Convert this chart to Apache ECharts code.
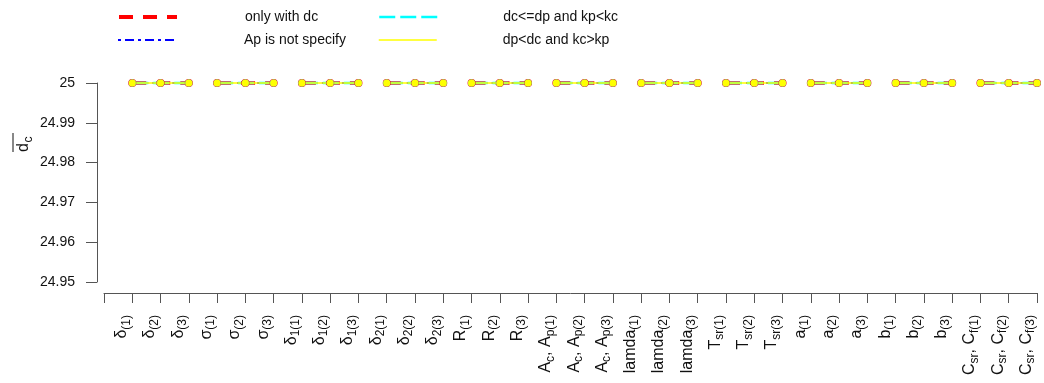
<!DOCTYPE html>
<html>
<head>
<meta charset="utf-8">
<script src="https://cdn.jsdelivr.net/npm/echarts@6/dist/echarts.min.js"></script>
<style>
html,body{margin:0;padding:0;background:#fff;}
#chart{width:1044px;height:383px;}
</style>
</head>
<body>
<div id="chart"></div>
<script>
// ---- data ----
const xLabels = ['δ_{(1)}','δ_{(2)}','δ_{(3)}','σ_{(1)}','σ_{(2)}','σ_{(3)}',
  'δ_{1(1)}','δ_{1(2)}','δ_{1(3)}','δ_{2(1)}','δ_{2(2)}','δ_{2(3)}',
  'R_{(1)}','R_{(2)}','R_{(3)}','A_{c}, A_{p(1)}','A_{c}, A_{p(2)}','A_{c}, A_{p(3)}',
  'lamda_{(1)}','lamda_{(2)}','lamda_{(3)}','T_{sr(1)}','T_{sr(2)}','T_{sr(3)}',
  'a_{(1)}','a_{(2)}','a_{(3)}','b_{(1)}','b_{(2)}','b_{(3)}',
  'C_{sr}, C_{f(1)}','C_{sr}, C_{f(2)}','C_{sr}, C_{f(3)}'];
const seriesNames = ['only with dc','Ap is not specify','dc<=dp and kp<kc','dp<dc and kc>kp'];
const onlyWithDc   = [25,25,25,25,25,25,25,25,25,25,25,25,25,25,25,25,25,25,25,25,25,25,25,25,25,25,25,25,25,25,25,25,25];
const apNotSpecify = [25,25,25,25,25,25,25,25,25,25,25,25,25,25,25,25,25,25,25,25,25,25,25,25,25,25,25,25,25,25,25,25,25];
const dcLeDp       = [25,25,25,25,25,25,25,25,25,25,25,25,25,25,25,25,25,25,25,25,25,25,25,25,25,25,25,25,25,25,25,25,25];
const dpLtDc       = [25,25,25,25,25,25,25,25,25,25,25,25,25,25,25,25,25,25,25,25,25,25,25,25,25,25,25,25,25,25,25,25,25];
const yTicks = [24.95, 24.96, 24.97, 24.98, 24.99, 25];
const groupSize = 3;

// ---- styles ----
const FONT = 'Liberation Sans, Arial, sans-serif';
const styles = [
  {color:'#ff0000', width:3.5, legendWidth:4, type:[14,10], size:8},
  {color:'#0000ff', width:2, legendWidth:2, type:[3,4,9,4], size:6},
  {color:'#00ffff', width:2.5, legendWidth:2.5, type:[16,5], size:7},
  {color:'#ffff00', width:1.5, legendWidth:1.5, type:'solid', size:7}
];
const values = [onlyWithDc, apNotSpecify, dcLeDp, dpLtDc];

function toRich(lbl){
  let out = '';
  const re = /_\{([^}]*)\}/g;
  let last = 0, m;
  while ((m = re.exec(lbl)) !== null) {
    if (m.index > last) out += '{m|' + lbl.slice(last, m.index) + '}';
    out += '{s|' + m[1] + '}';
    last = re.lastIndex;
  }
  if (last < lbl.length) out += '{m|' + lbl.slice(last) + '}';
  return out;
}

const categories = [''].concat(xLabels);
const series = [];
styles.forEach((st, si) => {
  const nGroups = values[si].length / groupSize;
  for (let g = 0; g < nGroups; g++) {
    const d = [];
    for (let k = 0; k < groupSize; k++) {
      const i = g * groupSize + k;
      d.push([i + 1, values[si][i]]);
    }
    series.push({
      name: seriesNames[si], type: 'line', data: d, clip: false,
      symbol: 'circle', symbolSize: st.size,
      itemStyle: {color: st.color},
      lineStyle: {color: st.color, width: st.width, type: st.type},
      emphasis: {disabled: true}
    });
  }
});

function legendFor(i, left, top, pad){
  return {
    left: left, top: top, padding: 0, itemWidth: 58, itemHeight: 14, selectedMode: false,
    data: [seriesNames[i]], itemStyle: {opacity: 0},
    lineStyle: {width: styles[i].legendWidth},
    textStyle: {fontSize: 14, color: '#111', fontFamily: FONT, padding: [0,0,0,pad]}
  };
}

const chart = echarts.init(document.getElementById('chart'), null, {renderer: 'canvas'});
chart.setOption({
  animation: false,
  backgroundColor: '#ffffff',
  legend: [legendFor(0,117,10,63), legendFor(2,378,10,61), legendFor(1,117,33,63), legendFor(3,378,33,61)],
  grid: {left: 104, right: 7, top: 83, bottom: 101, containLabel: false},
  xAxis: {
    type: 'category', data: categories, boundaryGap: false, offset: 11,
    axisLine: {show: true, lineStyle: {color: '#555', width: 1}},
    axisTick: {show: true, interval: 0, length: 10, lineStyle: {color: '#555'}},
    axisLabel: {
      interval: 0, rotate: 90, margin: 22, verticalAlign: 'bottom',
      formatter: v => v === '' ? '' : toRich(v),
      rich: {
        m: {fontSize: 16, fontFamily: FONT, color: '#111'},
        s: {fontSize: 12, fontFamily: FONT, color: '#111', padding: [9,0,0,0]}
      }
    },
    splitLine: {show: false}
  },
  yAxis: {
    type: 'value', min: yTicks[0], max: yTicks[yTicks.length-1], interval: 0.01, offset: 7,
    axisLine: {show: true, lineStyle: {color: '#555', width: 1}},
    axisTick: {show: true, length: 11, lineStyle: {color: '#555'}},
    axisLabel: {
      margin: 22, fontSize: 14, fontFamily: FONT, color: '#111', padding: [0,0,8,0],
      formatter: v => String(+v.toFixed(2))
    },
    splitLine: {show: false}
  },
  graphic: [{
    type: 'group', x: 29, y: 152, rotation: Math.PI / 2,
    children: [
      {type: 'text', style: {text: 'd', x: 0, y: -5, fontSize: 16, fontFamily: FONT, fill: '#111', verticalAlign: 'middle', align: 'left'}},
      {type: 'text', style: {text: 'c', x: 9.5, y: 0, fontSize: 12, fontFamily: FONT, fill: '#111', verticalAlign: 'middle', align: 'left'}},
      {type: 'line', shape: {x1: 0, y1: -16, x2: 19, y2: -16}, style: {stroke: '#111', lineWidth: 1}}
    ]
  }],
  series: series
});
</script>
</body>
</html>
